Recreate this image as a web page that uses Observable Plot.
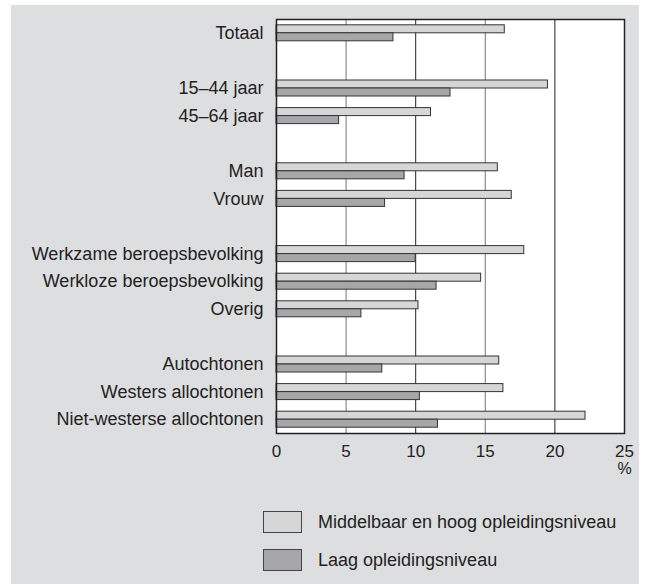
<!DOCTYPE html>
<html>
<head>
<meta charset="utf-8">
<script src="https://cdn.jsdelivr.net/npm/d3@7"></script>
<script src="https://cdn.jsdelivr.net/npm/@observablehq/plot@0.6"></script>
<style>
  html, body { margin: 0; padding: 0; background: #ffffff; }
  #panel { position: absolute; left: 11px; top: 5px; width: 628px; height: 579px; background: #dddee0;
           font-family: "Liberation Sans", Arial, sans-serif; color: #222; }
  #chart svg { display: block; }
  .leg { position: absolute; left: 252px; display: flex; align-items: center; font-size: 18px; }
  .sw { width: 37px; height: 20px; border: 1px solid #444; margin-right: 16px; box-sizing: content-box; }
</style>
</head>
<body>
<div id="panel">
  <div id="chart"></div>
  <div class="leg" style="top:506px"><div class="sw" style="background:#d6d6d6"></div><span>Middelbaar en hoog opleidingsniveau</span></div>
  <div class="leg" style="top:544px"><div class="sw" style="background:#a7a7a9"></div><span>Laag opleidingsniveau</span></div>
</div>
<script>
const groups = [
  ["Totaal"],
  ["15–44 jaar", "45–64 jaar"],
  ["Man", "Vrouw"],
  ["Werkzame beroepsbevolking", "Werkloze beroepsbevolking", "Overig"],
  ["Autochtonen", "Westers allochtonen", "Niet-westerse allochtonen"]
];
const categories = groups.flat();
const middelbaarHoog = [16.4, 19.5, 11.1, 15.9, 16.9, 17.8, 14.7, 10.2, 16.0, 16.3, 22.2];
const laag = [8.4, 12.5, 4.5, 9.2, 7.8, 10.0, 11.5, 6.1, 7.6, 10.3, 11.6];
const xTicks = [0, 5, 10, 15, 20, 25];

// slot index per category, with one blank slot between groups
const slot = new Map();
let k = 0;
groups.forEach((g, i) => {
  if (i > 0) k++;
  g.forEach(c => slot.set(c, k++));
});
const nSlots = k;
const slotTicks = categories.map(c => slot.get(c));
const labelOf = new Map(categories.map(c => [slot.get(c), c]));

const plotH = 414;
const barFrac = 8 / (plotH / nSlots);

const dataHigh = categories.map((c, i) => ({s: slot.get(c), v: middelbaarHoog[i]}));
const dataLow = categories.map((c, i) => ({s: slot.get(c), v: laag[i]}));

const chart = Plot.plot({
  width: 628,
  height: 470,
  marginLeft: 265,
  marginRight: 15,
  marginTop: 14,
  marginBottom: 42,
  style: {fontFamily: '"Liberation Sans", Arial, sans-serif', fontSize: "18px", color: "#222", background: "transparent"},
  x: {domain: [0, 25]},
  y: {domain: [-0.5, nSlots - 0.5], reverse: true},
  marks: [
    Plot.frame({fill: "white", stroke: null}),
    Plot.ruleX([5, 15], {stroke: "#8a8a8a", strokeWidth: 1.2}),
    Plot.ruleX([10, 20], {stroke: "#222", strokeWidth: 1}),
    Plot.rectX(dataHigh, {x1: 0, x2: "v", y1: d => d.s - barFrac, y2: d => d.s,
      fill: "#d6d6d6", stroke: "#333", strokeWidth: 1}),
    Plot.rectX(dataLow, {x1: 0, x2: "v", y1: d => d.s, y2: d => d.s + barFrac,
      fill: "#a7a7a9", stroke: "#333", strokeWidth: 1}),
    Plot.frame({stroke: "#222", strokeWidth: 1.5}),
    Plot.axisY({ticks: slotTicks, tickFormat: d => labelOf.get(d), tickSize: 0, tickPadding: 13, label: null}),
    Plot.axisX({ticks: xTicks, tickSize: 0, tickPadding: 11, label: null, fontSize: 17}),
    Plot.text(["%"], {x: () => 25, frameAnchor: "bottom", dy: 40, fontSize: 16, fill: "#222"})
  ]
});
document.getElementById("chart").appendChild(chart);
</script>
</body>
</html>
